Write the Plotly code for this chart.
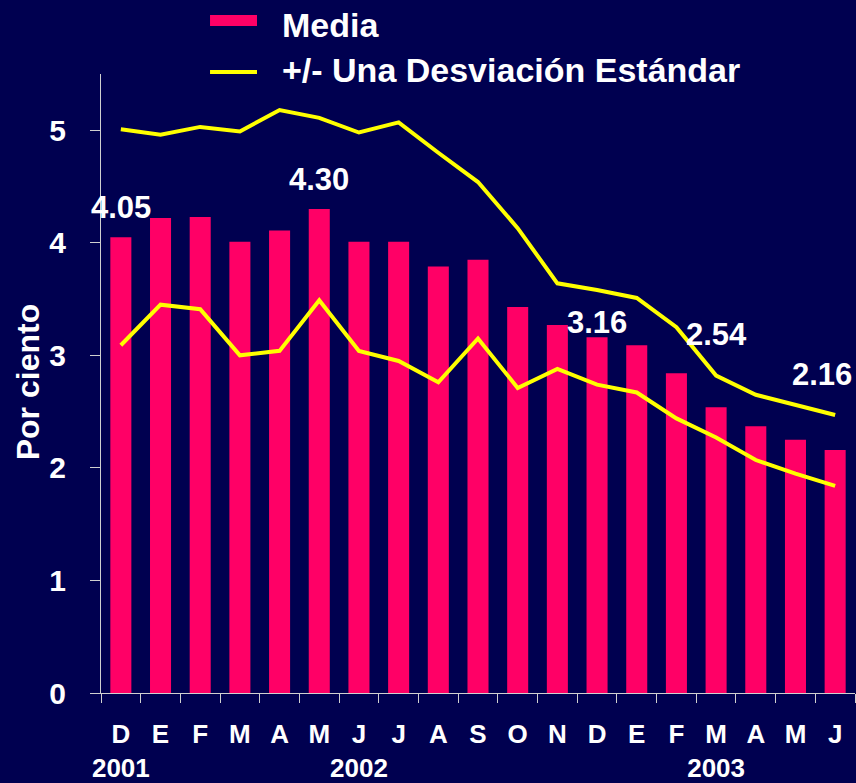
import plotly.graph_objects as go

# ---- data ----
periods = ["2001-12", "2002-01", "2002-02", "2002-03", "2002-04", "2002-05", "2002-06",
           "2002-07", "2002-08", "2002-09", "2002-10", "2002-11", "2002-12", "2003-01",
           "2003-02", "2003-03", "2003-04", "2003-05", "2003-06"]
month_labels = ["D", "E", "F", "M", "A", "M", "J", "J", "A", "S", "O", "N",
                "D", "E", "F", "M", "A", "M", "J"]
year_labels = ["2001", "", "", "", "", "", "2002", "", "", "", "", "", "",
               "", "", "2003", "", "", ""]
media = [4.05, 4.22, 4.23, 4.01, 4.11, 4.30, 4.01, 4.01, 3.79, 3.85,
         3.43, 3.27, 3.16, 3.09, 2.84, 2.54, 2.37, 2.25, 2.16]
upper = [5.01, 4.96, 5.03, 4.99, 5.18, 5.11, 4.98, 5.07, 4.80, 4.54,
         4.13, 3.64, 3.58, 3.51, 3.25, 2.82, 2.65, 2.56, 2.47]
lower = [3.09, 3.45, 3.41, 3.00, 3.04, 3.49, 3.04, 2.95, 2.76, 3.15,
         2.71, 2.88, 2.74, 2.67, 2.44, 2.27, 2.07, 1.95, 1.84]
labeled_idx = [0, 5, 12, 15, 18]
y_ticks = [0, 1, 2, 3, 4, 5]

# ---- style ----
BG = "#000050"
PINK = "#ff0066"
YELLOW = "#ffff00"
AXIS = "#d0d0d0"
FONT = "Liberation Sans, Arial, sans-serif"
label_yshift = [30, 30, 15, 73, 75]
label_xshift = [0, 0, 0, 0, -13]

ticktext = [m + ("<br>" + y if y else "") for m, y in zip(month_labels, year_labels)]

fig = go.Figure()
fig.add_trace(go.Bar(x=periods, y=media, name="Media",
                     marker=dict(color=PINK, line=dict(width=0)), showlegend=False))
fig.add_trace(go.Scatter(x=periods, y=upper, mode="lines", name="+/- Una Desviación Estándar",
                         line=dict(color=YELLOW, width=4), showlegend=False))
fig.add_trace(go.Scatter(x=periods, y=lower, mode="lines", name="-1 DE",
                         line=dict(color=YELLOW, width=4), showlegend=False))

for i, ys, xs in zip(labeled_idx, label_yshift, label_xshift):
    fig.add_annotation(x=periods[i], y=media[i], text=f"{media[i]:.2f}", showarrow=False,
                       yanchor="middle", xanchor="center", yshift=ys, xshift=xs,
                       font=dict(family=FONT, size=31, color="white", weight="bold"))

# custom legend
fig.add_shape(type="rect", xref="paper", yref="paper", x0=0.1446, x1=0.2069,
              y0=1.0775, y1=1.0953, fillcolor=PINK, line=dict(width=0))
fig.add_shape(type="line", xref="paper", yref="paper", x0=0.1446, x1=0.2069,
              y0=1.0032, y1=1.0032, line=dict(color=YELLOW, width=4))
fig.add_annotation(xref="paper", yref="paper", x=0.2380, y=1.0784, xanchor="left",
                   yanchor="middle", text="Media", showarrow=False,
                   font=dict(family=FONT, size=34, color="white", weight="bold"))
fig.add_annotation(xref="paper", yref="paper", x=0.2380, y=1.0057, xanchor="left",
                   yanchor="middle", text="+/- Una Desviación Estándar", showarrow=False,
                   font=dict(family=FONT, size=34, color="white", weight="bold"))

# y-axis title
fig.add_annotation(xref="paper", yref="paper", x=-0.0968, y=0.502, xanchor="center",
                   yanchor="middle", textangle=-90, text="Por ciento", showarrow=False,
                   font=dict(family=FONT, size=32, color="white", weight="bold"))

fig.update_layout(
    width=856, height=783,
    paper_bgcolor=BG, plot_bgcolor=BG,
    margin=dict(l=101, r=1, t=74, b=90),
    bargap=0.47,
    showlegend=False,
    xaxis=dict(type="category", tickmode="array", tickvals=periods, ticktext=ticktext,
               range=[-0.5, len(periods) - 0.5],
               tickson="boundaries", ticks="outside", ticklen=9, tickcolor=AXIS,
               showline=True, linecolor=AXIS, linewidth=1, showgrid=False,
               tickangle=0, automargin=False, ticklabelstandoff=18,
               tickfont=dict(family=FONT, size=26, color="white", weight="bold")),
    yaxis=dict(range=[0, 5.5], tickmode="array", tickvals=y_ticks,
               ticks="outside", ticklen=10, tickcolor=AXIS,
               showline=True, linecolor=AXIS, linewidth=1, showgrid=False, zeroline=False,
               automargin=False, ticklabelstandoff=18,
               tickfont=dict(family=FONT, size=30, color="white", weight="bold")),
)

fig.write_html("out.html",
               config={"displayModeBar": False},
               post_script="document.body.style.margin='0';"
                           "document.body.style.background='" + BG + "';")
